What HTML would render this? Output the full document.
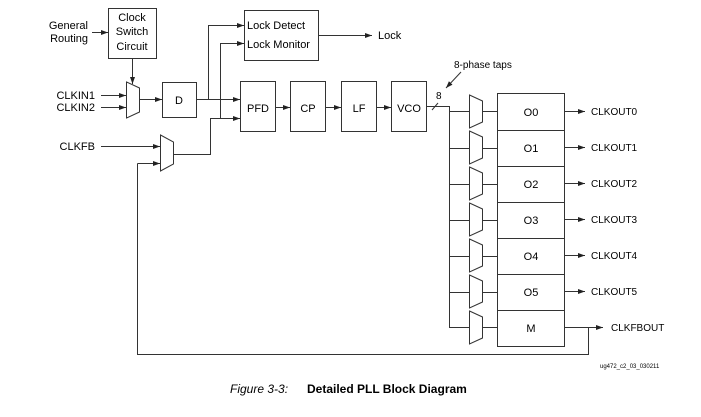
<!DOCTYPE html>
<html><head><meta charset="utf-8"><style>
html,body{margin:0;padding:0;background:#fff;}
svg{display:block;}
text{font-family:"Liberation Sans",Arial,sans-serif;fill:#000;}
</style></head><body>
<svg width="701" height="417" viewBox="0 0 701 417" xmlns="http://www.w3.org/2000/svg">
<defs>
<marker id="a" markerWidth="8" markerHeight="6" refX="7" refY="3" orient="auto" markerUnits="userSpaceOnUse">
<path d="M0,0.5 L7,3 L0,5.5 z" fill="#222"/></marker>
</defs>
<g stroke="#333" stroke-width="1" fill="none">
<!-- boxes -->
<rect x="108.5" y="8.5" width="48" height="50" fill="#fff"/>
<rect x="244.5" y="10.5" width="74" height="50" fill="#fff"/>
<rect x="162.5" y="82.5" width="34" height="35"/>
<rect x="240.5" y="81.5" width="35" height="50"/>
<rect x="290.5" y="81.5" width="35" height="50"/>
<rect x="341.5" y="81.5" width="35" height="50"/>
<rect x="391.5" y="81.5" width="35" height="50"/>
<rect x="497.5" y="93.5" width="67" height="253"/>
<line x1="497" y1="130.5" x2="564" y2="130.5"/>
<line x1="497" y1="166.5" x2="564" y2="166.5"/>
<line x1="497" y1="202.5" x2="564" y2="202.5"/>
<line x1="497" y1="238.5" x2="564" y2="238.5"/>
<line x1="497" y1="274.5" x2="564" y2="274.5"/>
<line x1="497" y1="310.5" x2="564" y2="310.5"/>
<!-- muxes -->
<polygon points="126.5,82 139.5,88 139.5,112 126.5,118"/>
<polygon points="160.5,135 173.5,142 173.5,164 160.5,171"/>
<!-- input wires -->
<line x1="92" y1="32.5" x2="108" y2="32.5" marker-end="url(#a)"/>
<line x1="132.5" y1="58" x2="132.5" y2="84" marker-end="url(#a)"/>
<line x1="101" y1="95.5" x2="126" y2="95.5" marker-end="url(#a)"/>
<line x1="101" y1="107.5" x2="126" y2="107.5" marker-end="url(#a)"/>
<line x1="139" y1="99.5" x2="162" y2="99.5" marker-end="url(#a)"/>
<line x1="101" y1="146.5" x2="160" y2="146.5" marker-end="url(#a)"/>
<polyline points="196,99.5 240,99.5" marker-end="url(#a)"/>
<polyline points="208.5,99.5 208.5,25.5 244,25.5" marker-end="url(#a)"/>
<polyline points="173,154.5 210.5,154.5 210.5,118.5 240,118.5" marker-end="url(#a)"/>
<polyline points="220.5,118.5 220.5,43.5 244,43.5" marker-end="url(#a)"/>
<line x1="318" y1="35.5" x2="372" y2="35.5" marker-end="url(#a)"/>
<line x1="275" y1="107.5" x2="290" y2="107.5" marker-end="url(#a)"/>
<line x1="325" y1="107.5" x2="341" y2="107.5" marker-end="url(#a)"/>
<line x1="376" y1="107.5" x2="391" y2="107.5" marker-end="url(#a)"/>
<!-- VCO bus -->
<polyline points="426,106.5 449.5,106.5 449.5,327.5"/>
<line x1="432" y1="110" x2="438" y2="103"/>
<line x1="461" y1="72" x2="446" y2="88" marker-end="url(#a)"/>
<!-- feedback -->
<polyline points="137.5,163.5 160,163.5" marker-end="url(#a)"/>
<polyline points="137.5,163.5 137.5,354.5 588.5,354.5 588.5,327.5"/>
<line x1="564" y1="327.5" x2="603" y2="327.5" marker-end="url(#a)"/>
</g>
<g stroke="#333" stroke-width="1" fill="none">
<!-- output muxes and wires: rows centers -->
<g id="r">
</g>
</g>
<g stroke="#333" stroke-width="1" fill="none">
<polygon points="469.5,95 482.5,101 482.5,122 469.5,128"/><line x1="449" y1="111.5" x2="469" y2="111.5"/><line x1="482" y1="111.5" x2="497" y2="111.5"/><line x1="564" y1="111.5" x2="585" y2="111.5" marker-end="url(#a)"/>
<polygon points="469.5,131 482.5,137 482.5,158 469.5,164"/><line x1="449" y1="148.5" x2="469" y2="148.5"/><line x1="482" y1="148.5" x2="497" y2="148.5"/><line x1="564" y1="147.5" x2="585" y2="147.5" marker-end="url(#a)"/>
<polygon points="469.5,167 482.5,173 482.5,194 469.5,200"/><line x1="449" y1="184.5" x2="469" y2="184.5"/><line x1="482" y1="184.5" x2="497" y2="184.5"/><line x1="564" y1="183.5" x2="585" y2="183.5" marker-end="url(#a)"/>
<polygon points="469.5,203 482.5,209 482.5,230 469.5,236"/><line x1="449" y1="220.5" x2="469" y2="220.5"/><line x1="482" y1="220.5" x2="497" y2="220.5"/><line x1="564" y1="219.5" x2="585" y2="219.5" marker-end="url(#a)"/>
<polygon points="469.5,239 482.5,245 482.5,266 469.5,272"/><line x1="449" y1="256.5" x2="469" y2="256.5"/><line x1="482" y1="256.5" x2="497" y2="256.5"/><line x1="564" y1="255.5" x2="585" y2="255.5" marker-end="url(#a)"/>
<polygon points="469.5,275 482.5,281 482.5,302 469.5,308"/><line x1="449" y1="292.5" x2="469" y2="292.5"/><line x1="482" y1="292.5" x2="497" y2="292.5"/><line x1="564" y1="291.5" x2="585" y2="291.5" marker-end="url(#a)"/>
<polygon points="469.5,311 482.5,317 482.5,338 469.5,344"/><line x1="449" y1="327.5" x2="469" y2="327.5"/><line x1="482" y1="327.5" x2="497" y2="327.5"/>
</g>
<g font-size="11">
<text x="88" y="29" text-anchor="end">General</text>
<text x="88" y="42" text-anchor="end">Routing</text>
<text x="132" y="21" text-anchor="middle">Clock</text>
<text x="132" y="35" text-anchor="middle">Switch</text>
<text x="132" y="50" text-anchor="middle">Circuit</text>
<text x="247" y="29">Lock Detect</text>
<text x="247" y="48">Lock Monitor</text>
<text x="378" y="39">Lock</text>
<text x="95" y="99" text-anchor="end">CLKIN1</text>
<text x="95" y="111" text-anchor="end">CLKIN2</text>
<text x="95" y="150" text-anchor="end">CLKFB</text>
<text x="179" y="104" text-anchor="middle">D</text>
<text x="258" y="112" text-anchor="middle">PFD</text>
<text x="308" y="112" text-anchor="middle">CP</text>
<text x="359" y="112" text-anchor="middle">LF</text>
<text x="409" y="112" text-anchor="middle">VCO</text>
<text x="531" y="116" text-anchor="middle">O0</text>
<text x="531" y="152" text-anchor="middle">O1</text>
<text x="531" y="188" text-anchor="middle">O2</text>
<text x="531" y="224" text-anchor="middle">O3</text>
<text x="531" y="260" text-anchor="middle">O4</text>
<text x="531" y="296" text-anchor="middle">O5</text>
<text x="531" y="332" text-anchor="middle">M</text>
</g>
<g font-size="10">
<text x="436" y="99">8</text>
<text x="454" y="68">8-phase taps</text>
<text x="591" y="115">CLKOUT0</text>
<text x="591" y="151">CLKOUT1</text>
<text x="591" y="187">CLKOUT2</text>
<text x="591" y="223">CLKOUT3</text>
<text x="591" y="259">CLKOUT4</text>
<text x="591" y="295">CLKOUT5</text>
<text x="611" y="331">CLKFBOUT</text>
</g>
<text x="600" y="368" font-size="6">ug472_c2_03_030211</text>
<text x="230" y="393" font-size="12" font-style="italic">Figure 3-3:</text>
<text x="307" y="393" font-size="12" font-weight="bold">Detailed PLL Block Diagram</text>
</svg>
</body></html>
